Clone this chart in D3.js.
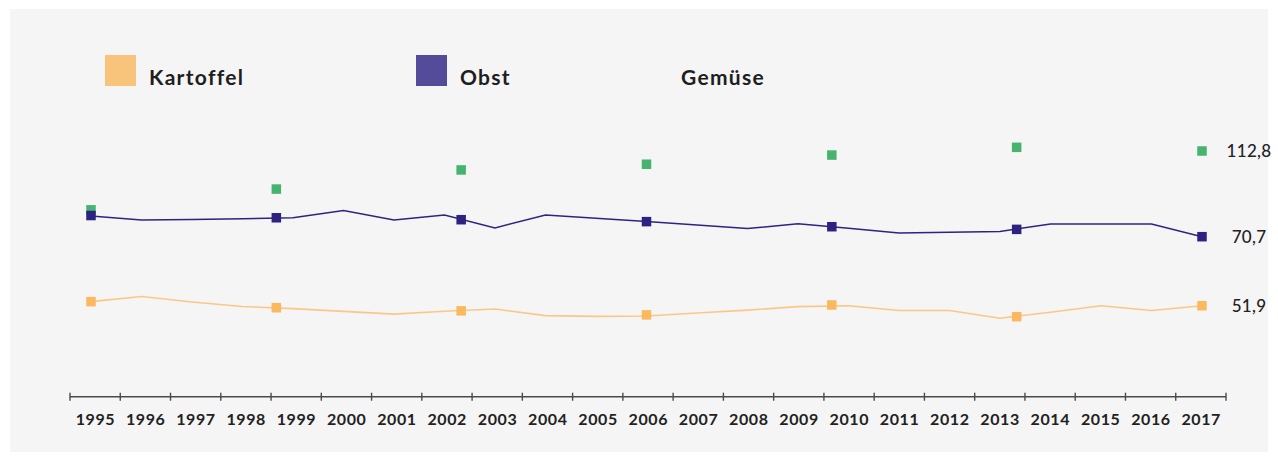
<!DOCTYPE html>
<html>
<head>
<meta charset="utf-8">
<script src="https://cdn.jsdelivr.net/npm/d3@7"></script>
<style>
  html, body { margin: 0; padding: 0; background: #ffffff; }
  svg { display: block; }
  text { font-family: Lato, "Open Sans", sans-serif; }
</style>
</head>
<body>
<svg id="chart" width="1278" height="456"></svg>
<script>
// Pro-Kopf-Verbrauch (kg) 1995–2017
const years = d3.range(1995, 2018);
const yearLabels = years.map(String);

const kartoffel = [53.0, 54.4, 52.9, 51.7, 51.1, 50.35, 49.6, 50.4, 51.0, 49.2, 49.0, 49.1,
                   49.9, 50.7, 51.65, 51.9, 50.6, 50.6, 48.5, 50.1, 51.9, 50.6, 51.9];
const obst      = [80.9, 78.9, 79.2, 79.5, 80.0, 83.6, 78.9, 81.4, 75.0, 81.4, 79.8, 78.2,
                   76.5, 74.7, 77.1, 74.9, 72.5, 72.9, 73.3, 76.9, 76.9, 76.9, 70.7];

// Markierte Stützpunkte (gleichmäßig über den Zeitraum verteilt)
const markerYears      = [1995, 1998.67, 2002.33, 2006, 2009.67, 2013.33, 2017];
const kartoffelMarkers = [53.0, 51.35, 50.5, 49.4, 52.1, 48.9, 51.9];
const obstMarkers      = [81.1, 80.0, 79.05, 78.1, 75.6, 74.3, 70.7];
const gemueseMarkers   = [83.9, 94.1, 103.5, 106.3, 110.8, 114.6, 112.8];

const seriesNames = ["Kartoffel", "Obst", "Gemüse"];
const endLabels = ["51,9", "70,7", "112,8"];
const endValues = [51.9, 70.7, 112.8];

const colors = {
  legend:  { Kartoffel: "#f8c47c", Obst: "#554b9b" },
  line:    { Kartoffel: "#fcc786", Obst: "#2f2382" },
  marker:  { Kartoffel: "#fbb85f", Obst: "#2d2282", "Gemüse": "#46b36f" }
};

const svg = d3.select("#chart");

// Hintergrundfläche
svg.append("rect")
  .attr("x", 10).attr("y", 9)
  .attr("width", 1258).attr("height", 443)
  .attr("fill", "#f5f5f5");

// Skalen
const x = d3.scaleLinear().domain([1995, 2017]).range([91, 1202]);
const y = d3.scaleLinear().domain([51.9, 70.7, 112.8]).range([305.7, 236.7, 151]);
const xBand = d3.scaleBand().domain(yearLabels).range([70, 1226]);

// Achse
const axisY = 396.7;
const axis = svg.append("g").attr("class", "axis");
axis.append("line")
  .attr("x1", xBand.range()[0]).attr("x2", xBand.range()[1])
  .attr("y1", axisY).attr("y2", axisY)
  .attr("stroke", "#4a4a4a").attr("stroke-width", 1.4);
const tickPos = yearLabels.map(d => xBand(d)).concat([xBand.range()[1]]);
axis.selectAll("line.tick").data(tickPos).join("line")
  .attr("class", "tick")
  .attr("x1", d => d).attr("x2", d => d)
  .attr("y1", axisY - 4).attr("y2", axisY + 4)
  .attr("stroke", "#4a4a4a").attr("stroke-width", 1.4);
axis.selectAll("text").data(yearLabels).join("text")
  .attr("x", d => xBand(d) + xBand.bandwidth() / 2 + 0.3)
  .attr("y", 425)
  .attr("text-anchor", "middle")
  .attr("font-size", 16).attr("font-weight", 700)
  .attr("letter-spacing", 0.6)
  .attr("fill", "#222")
  .text(d => d);

// Linien
const line = d3.line().x((d, i) => x(years[i])).y(d => y(d));
svg.append("path").datum(kartoffel)
  .attr("d", line).attr("fill", "none")
  .attr("stroke", colors.line.Kartoffel).attr("stroke-width", 1.6);
svg.append("path").datum(obst)
  .attr("d", line).attr("fill", "none")
  .attr("stroke", colors.line.Obst).attr("stroke-width", 1.5);

// Markierungen
const ms = 9.5;
function markers(values, color) {
  svg.append("g").selectAll("rect").data(values).join("rect")
    .attr("x", (d, i) => x(markerYears[i]) - ms / 2)
    .attr("y", d => y(d) - ms / 2)
    .attr("width", ms).attr("height", ms)
    .attr("fill", color);
}
markers(gemueseMarkers, colors.marker["Gemüse"]);
markers(kartoffelMarkers, colors.marker.Kartoffel);
markers(obstMarkers, colors.marker.Obst);

// Endwerte
svg.append("g").selectAll("text").data(endLabels).join("text")
  .attr("x", 1249)
  .attr("y", (d, i) => y(endValues[i]) + 6)
  .attr("text-anchor", "middle")
  .attr("font-size", 17).attr("font-weight", 500)
  .attr("letter-spacing", 0.3)
  .attr("fill", "#222")
  .text(d => d);

// Legende
const legendX = [105, 416, 681];
const legend = svg.append("g");
seriesNames.forEach((name, i) => {
  if (colors.legend[name]) {
    legend.append("rect")
      .attr("x", legendX[i]).attr("y", 55)
      .attr("width", 31).attr("height", 31)
      .attr("fill", colors.legend[name]);
  }
  legend.append("text")
    .attr("x", colors.legend[name] ? legendX[i] + 44 : legendX[i])
    .attr("y", 85)
    .attr("font-size", 21).attr("font-weight", 700)
    .attr("letter-spacing", 1.3)
    .attr("fill", "#1e1e1e")
    .text(name);
});
</script>
</body>
</html>
